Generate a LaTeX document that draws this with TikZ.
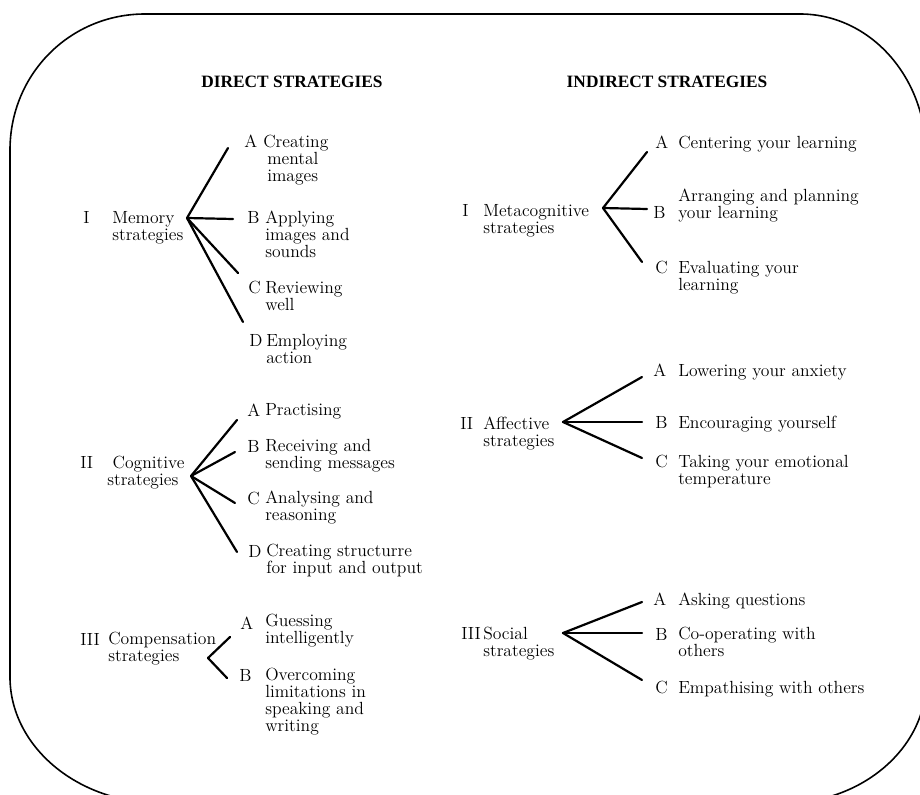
\documentclass[tikz,border=0pt]{standalone}
\usepackage{fontspec}
\newfontfamily\hdrfont{Liberation Serif}
\begin{document}
\begin{tikzpicture}[x=0.75pt,y=-0.75pt,
  txt/.style={font=\fontsize{13.2}{12.75}\selectfont, align=left, inner sep=0pt,
              anchor=north west, yshift=4.5pt, execute at begin node=\strut},
  hdr/.style={font=\hdrfont\bfseries\fontsize{13}{15}\selectfont, inner sep=0pt, anchor=base},
  branch/.style={line width=1.65pt, line cap=round},
  frame/.style={line width=1.2pt}]
\useasboundingbox (0,0) rectangle (920,795);
\clip (0,0) rectangle (920,795);
\fill[white] (0,0) rectangle (920,795);
% frame
\draw[frame] (145,14) -- (800,14) .. controls (870,14) and (926,77) .. (926,154)
  -- (926,682) .. controls (926,748) and (862,803) .. (785,803)
  -- (160,803) .. controls (77,803) and (10,746) .. (10,677)
  -- (10,150) .. controls (10,74) and (70,14) .. (145,14) -- cycle;
% headers
\node[hdr] (hd) at (292,88) {DIRECT STRATEGIES};
\node[hdr] (hi) at (667,88) {INDIRECT STRATEGIES};

% ---------- Direct I: Memory
\node[txt] (d1n) at (83,217) {I};
\node[txt] (d1) at (112,217) {Memory\\strategies};
\coordinate (d1h) at (187,218);
\coordinate (d1ea) at (228,148);
\coordinate (d1eb) at (233,219);
\coordinate (d1ec) at (238,273);
\coordinate (d1ed) at (243,322);
\node[txt] (d1la) at (244,141) {A};
\node[txt] (d1ta) at (263,141) {Creating\\\hspace*{3pt}mental\\\hspace*{3pt}images};
\node[txt] (d1lb) at (247,217) {B};
\node[txt] (d1tb) at (265,217) {Applying\\images and\\sounds};
\node[txt] (d1lc) at (248,287) {C};
\node[txt] (d1tc) at (265,287) {Reviewing\\well};
\node[txt] (d1ld) at (249,340) {D};
\node[txt] (d1td) at (266,340) {Employing\\action};
\foreach \e in {d1ea,d1eb,d1ec,d1ed} \draw[branch] (d1h) -- (\e);

% ---------- Direct II: Cognitive
\node[txt] (d2n) at (80,462) {II};
\node[txt] (d2) at (107,462) {\hspace*{4pt}Cognitive\\strategies};
\coordinate (d2h) at (191,476);
\coordinate (d2ea) at (237,420);
\coordinate (d2eb) at (235,452);
\coordinate (d2ec) at (235,503);
\coordinate (d2ed) at (237,552);
\node[txt] (d2la) at (247,410) {A};
\node[txt] (d2ta) at (265,409) {Practising};
\node[txt] (d2lb) at (247,446) {B};
\node[txt] (d2tb) at (265,445) {Receiving and\\sending messages};
\node[txt] (d2lc) at (247,498) {C};
\node[txt] (d2tc) at (265,497) {Analysing and\\reasoning};
\node[txt] (d2ld) at (248,551) {D};
\node[txt] (d2td) at (266,550) {Creating structurre\\for input and output};
\foreach \e in {d2ea,d2eb,d2ec,d2ed} \draw[branch] (d2h) -- (\e);

% ---------- Direct III: Compensation
\node[txt] (d3n) at (80,639) {III};
\node[txt] (d3) at (108,638) {Compensation\\strategies};
\coordinate (d3h) at (208,658);
\coordinate (d3ea) at (230,637);
\coordinate (d3eb) at (227,678);
\node[txt] (d3la) at (240,623) {A};
\node[txt] (d3ta) at (265,620) {Guessing\\intelligently};
\node[txt] (d3lb) at (239,675) {B};
\node[txt] (d3tb) at (265,674) {Overcoming\\limitations in\\speaking and\\writing};
\foreach \e in {d3ea,d3eb} \draw[branch] (d3h) -- (\e);

% ---------- Indirect I: Metacognitive
\node[txt] (i1n) at (462,210) {I};
\node[txt] (i1) at (483,210) {Metacognitive\\strategies};
\coordinate (i1h) at (603,208);
\coordinate (i1ea) at (647,152);
\coordinate (i1eb) at (647,209);
\coordinate (i1ec) at (642,262);
\node[txt] (i1la) at (655,142) {A};
\node[txt] (i1ta) at (678,142) {Centering your learning};
\node[txt] (i1lb) at (653,212) {B};
\node[txt] (i1tb) at (678,195) {Arranging and planning\\your learning};
\node[txt] (i1lc) at (655,267) {C};
\node[txt] (i1tc) at (678,267) {Evaluating your\\learning};
\foreach \e in {i1ea,i1eb,i1ec} \draw[branch] (i1h) -- (\e);

% ---------- Indirect II: Affective
\node[txt] (i2n) at (460,423) {II};
\node[txt] (i2) at (483,423) {Affective\\strategies};
\coordinate (i2h) at (563,422);
\coordinate (i2ea) at (642,377);
\coordinate (i2eb) at (642,422);
\coordinate (i2ec) at (642,458);
\node[txt] (i2la) at (653,370) {A};
\node[txt] (i2ta) at (678,370) {Lowering your anxiety};
\node[txt] (i2lb) at (655,422) {B};
\node[txt] (i2tb) at (678,422) {Encouraging yourself};
\node[txt] (i2lc) at (655,461) {C};
\node[txt] (i2tc) at (678,461) {Taking your emotional\\temperature};
\foreach \e in {i2ea,i2eb,i2ec} \draw[branch] (i2h) -- (\e);

% ---------- Indirect III: Social
\node[txt] (i3n) at (461,633) {III};
\node[txt] (i3) at (483,633) {Social\\strategies};
\coordinate (i3h) at (563,633);
\coordinate (i3ea) at (642,602);
\coordinate (i3eb) at (642,633);
\coordinate (i3ec) at (642,680);
\node[txt] (i3la) at (653,599) {A};
\node[txt] (i3ta) at (678,599) {Asking questions};
\node[txt] (i3lb) at (655,634) {B};
\node[txt] (i3tb) at (678,633) {Co-operating with\\others};
\node[txt] (i3lc) at (655,687) {C};
\node[txt] (i3tc) at (678,687) {Empathising with others};
\foreach \e in {i3ea,i3eb,i3ec} \draw[branch] (i3h) -- (\e);
\end{tikzpicture}
\end{document}
